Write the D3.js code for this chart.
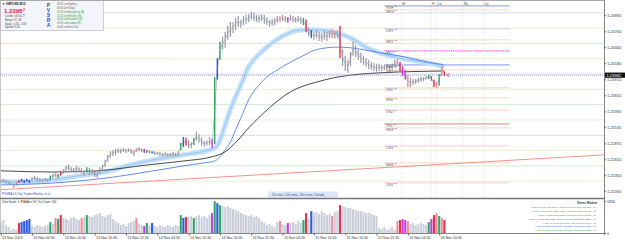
<!DOCTYPE html>
<html>
<head>
<meta charset="utf-8">
<script src="https://cdn.jsdelivr.net/npm/d3@7"></script>
<style>
  html, body { margin: 0; padding: 0; background: #fff; }
  svg { display: block; font-family: "Liberation Sans", Arial, sans-serif; }
</style>
</head>
<body>
<svg id="chart" width="625" height="242"></svg>
<script>
(function() {

  // ---- data -------------------------------------------------------------
  // one bar = 30 minutes, first bar 12 Nov 22:30 (hours counted from 13 Nov 00:00)
  const barStartHour = -1.5;
  const barStepHours = 0.5;

  const highs = [
    1.2227,1.2229,1.2227,1.2225,1.2224,1.2221,1.2225,1.2227,1.2229,1.2227,
    1.2229,1.2227,1.2232,1.2234,1.2232,1.2230,1.2229,1.2230,1.2229,1.2234,
    1.2237,1.2239,1.2237,1.2240,1.2245,1.2250,1.2252,1.2248,1.2247,1.2250,
    1.2248,1.2247,1.2243,1.2248,1.2247,1.2245,1.2242,1.2239,1.2248,1.2252,
    1.2260,1.2268,1.2274,1.2276,1.2278,1.2279,1.2278,1.2279,1.2278,1.2279,
    1.2278,1.2276,1.2279,1.2281,1.2279,1.2278,1.2276,1.2276,1.2274,1.2274,
    1.2273,1.2273,1.2271,1.2273,1.2271,1.2271,1.2273,1.2271,1.2274,1.2288,
    1.2297,1.2296,1.2292,1.2289,1.2296,1.2306,1.2302,1.2296,1.2291,1.2292,
    1.2297,1.2294,1.2395,1.2426,1.2453,1.2461,1.2469,1.2479,1.2485,1.2485,
    1.2492,1.2495,1.2489,1.2495,1.2497,1.2498,1.2502,1.2500,1.2497,1.2497,
    1.2498,1.2497,1.2493,1.2489,1.2490,1.2492,1.2495,1.2495,1.2497,1.2495,
    1.2493,1.2497,1.2495,1.2493,1.2495,1.2493,1.2492,1.2489,1.2476,1.2472,
    1.2469,1.2472,1.2469,1.2467,1.2471,1.2469,1.2471,1.2474,1.2471,1.2472,
    1.2479,1.2440,1.2430,1.2423,1.2436,1.2453,1.2448,1.2440,1.2435,1.2430,
    1.2426,1.2423,1.2420,1.2418,1.2417,1.2417,1.2415,1.2415,1.2417,1.2415,
    1.2417,1.2423,1.2425,1.2420,1.2413,1.2407,1.2399,1.2394,1.2392,1.2392,
    1.2394,1.2395,1.2395,1.2397,1.2399,1.2397,1.2391,1.2387,1.2400,1.2413,
    1.2404
  ];
  const lows = [
    1.2222,1.2224,1.2221,1.2221,1.2219,1.2214,1.2217,1.2222,1.2224,1.2222,
    1.2224,1.2222,1.2225,1.2227,1.2225,1.2224,1.2224,1.2225,1.2224,1.2227,
    1.2230,1.2232,1.2230,1.2234,1.2237,1.2242,1.2243,1.2240,1.2239,1.2242,
    1.2240,1.2237,1.2234,1.2239,1.2235,1.2237,1.2232,1.2230,1.2237,1.2242,
    1.2248,1.2257,1.2263,1.2266,1.2268,1.2271,1.2270,1.2273,1.2271,1.2273,
    1.2270,1.2266,1.2273,1.2274,1.2273,1.2271,1.2271,1.2270,1.2270,1.2268,
    1.2268,1.2266,1.2265,1.2266,1.2265,1.2265,1.2266,1.2265,1.2266,1.2276,
    1.2281,1.2283,1.2279,1.2279,1.2284,1.2291,1.2288,1.2283,1.2281,1.2283,
    1.2284,1.2279,1.2286,1.2391,1.2423,1.2440,1.2443,1.2456,1.2461,1.2467,
    1.2472,1.2477,1.2476,1.2480,1.2482,1.2485,1.2489,1.2487,1.2485,1.2484,
    1.2487,1.2482,1.2480,1.2477,1.2479,1.2480,1.2484,1.2485,1.2487,1.2485,
    1.2484,1.2487,1.2485,1.2484,1.2485,1.2482,1.2480,1.2469,1.2462,1.2459,
    1.2456,1.2458,1.2454,1.2453,1.2456,1.2454,1.2459,1.2459,1.2458,1.2459,
    1.2426,1.2413,1.2405,1.2402,1.2413,1.2430,1.2428,1.2423,1.2418,1.2415,
    1.2412,1.2408,1.2407,1.2405,1.2404,1.2405,1.2405,1.2407,1.2407,1.2405,
    1.2407,1.2413,1.2415,1.2404,1.2397,1.2391,1.2379,1.2379,1.2382,1.2384,
    1.2386,1.2387,1.2389,1.2391,1.2392,1.2389,1.2379,1.2377,1.2381,1.2397,
    1.2397
  ];
  const volumes = [
    570,741,456,342,171,228,171,570,627,684,
    741,798,399,342,456,399,342,399,456,627,
    513,855,798,1026,855,798,741,855,912,798,
    741,855,912,1026,969,912,1026,1083,1140,969,
    912,1026,1083,798,684,570,456,513,399,570,
    627,684,855,513,456,399,570,456,570,399,
    342,456,399,342,456,399,342,456,399,1026,
    855,912,912,969,855,969,1026,912,969,855,
    1026,1140,1824,1710,1596,1539,1482,1539,1425,1368,
    1311,1254,1140,1083,1026,969,1026,912,969,855,
    684,570,456,513,399,342,627,684,513,456,
    570,570,627,513,684,570,741,1140,798,1254,
    1140,1197,1083,1254,1140,1026,1083,969,1197,1254,
    1596,1539,1482,1425,1425,1368,1311,1254,1254,1197,
    1140,1140,1083,1026,969,285,228,342,171,228,
    342,171,684,741,798,741,684,513,570,456,
    513,570,513,456,627,798,1026,1140,969,855,
    741
  ];
  // PVSRA bar type by bar index: r climax bear, p above-avg bear, g climax bull, b above-avg bull, m magenta
  const barTypes = {
    7:'r', 8:'b', 9:'b', 10:'b', 11:'b', 19:'g', 21:'p', 22:'g', 23:'r', 31:'p', 33:'g',
    52:'p', 55:'m', 56:'g', 58:'b', 69:'g', 70:'b', 71:'r', 74:'g', 81:'m', 82:'g', 83:'b',
    84:'g', 107:'p', 110:'m', 116:'g', 117:'r', 119:'b', 127:'p', 130:'r', 152:'p', 153:'r',
    154:'m', 155:'m', 156:'p', 164:'g', 165:'m', 166:'r', 167:'p', 168:'g', 169:'p', 170:'r'
  };

  const ema50Bars = [0,10,20,30,40,50,60,70,78,82,84,86,88,90,92,95,98,102,108,115,121,129,134,140,145,153,164,170];
  const ema50 = [1.2224,1.2224,1.2227,1.2234,1.2240,1.2252,1.2261,1.2268,1.2274,1.2279,1.2292,1.2317,1.2342,
                 1.2363,1.2382,1.2412,1.2428,1.2444,1.2462,1.2472,1.2472,1.2467,1.2459,1.2444,1.2435,1.2426,1.2418,1.2412];
  const ema100Bars = [0,20,40,60,70,78,82,86,88,90,92,95,100,108,115,121,129,134,145,155,163,170];
  const ema100 = [1.2219,1.2222,1.2230,1.2243,1.2250,1.2255,1.2258,1.2276,1.2289,1.2309,1.2328,1.2358,
                  1.2387,1.2412,1.2428,1.2440,1.2444,1.2443,1.2435,1.2428,1.2420,1.2415];
  const ema200Bars = [0,20,37,57,70,81,86,90,95,103,111,121,129,145,170];
  const ema200 = [1.2242,1.2240,1.2242,1.2252,1.2258,1.2265,1.2273,1.2288,1.2312,1.2345,1.2371,1.2387,1.2395,1.2402,1.2405];

  const priceTicks = [1.24965,1.24700,1.24440,1.24180,1.23915,1.23655,1.23390,1.23135,1.22870,1.22610,1.22350,1.22090];
  const roundLevels = [1.2500,1.2475,1.2450,1.2425,1.2400,1.2375,1.2350,1.2325,1.2300,1.2275,1.2250,1.2225];
  const bidPrice = 1.23982;

  const timeTickHours = [-1.5,4.5,10.5,16.5,22.5,28.5,34.5,40.5,46.5,52.5,58.5,64.5,70.5,76.5,82.5];
  const timeTickLabels = ['13 Nov 2023','13 Nov 04:30','13 Nov 10:30','13 Nov 16:30','13 Nov 22:30',
    '14 Nov 04:30','14 Nov 10:30','14 Nov 16:30','14 Nov 22:30','15 Nov 04:30','15 Nov 10:30',
    '15 Nov 16:30','15 Nov 22:30','16 Nov 04:30','16 Nov 10:30'];

  const pivotNames = ['PDH','MR3','DR1','MR1','PVT','NWOH','MS1','DS1','MS2','DS2','PDL','MS3','DS3','MS4','DS4'];
  const pivotPrices = [1.25114,1.25049,1.24739,1.24559,1.24379,1.24150,1.24069,1.23775,1.23611,1.23415,
                       1.23186,1.23121,1.22827,1.22549,1.22222];
  const pivotHours = [72, 96];

  const sessionNames = ['H','F','Lo','Ny','Lo'];
  const sessionHours = [75.25, 81, 82, 87, 91];

  const trendHours = [-1.63, 114.1];
  const trendPrices = [1.2211, 1.2268];

  const infoLines = ['Candle: 00:01:27','Range: 97, 68','Swap: -0.65, -0.00','Spread: 3.00'];
  const clockTimes = ['08:45 pm','06:45 pm','05:45 pm','11:45 am','10:45 am','09:45 am','04:45 am'];
  const clockCities = ['Sydney','Tokyo','Hongkong (A)','Helsinki (B)','Frankfurt (B)','London (B)','NewYork'];
  const clockOpen = [false,false,true,true,true,true,false];

  const eventTexts = [
    '1 hrs 17 mins until USD: FOMC Member Cook Speaks',
    '1 hrs 17 mins until USD: FOMC Member Barr Speaks',
    '3 hrs 47 mins until USD: Unemployment Claims',
    '3 hrs 47 mins until USD: Philly Fed Manufacturing Index',
    '3 hrs 47 mins until USD: Import Prices m/m',
    '4 hrs 30 mins until USD: Industrial Production m/m',
    '4 hrs 30 mins until USD: Capacity Utilization Rate'
  ];
  const eventKinds = ['g','g','r','b','g','b','g'];

  // ---- layout -----------------------------------------------------------
  const plotRight = 604;
  const mainBottom = 198;
  const volTop = 199;
  const volBottom = 233;

  const typeColor = { r: '#e2314c', p: '#ee8b98', g: '#2fa865', b: '#2b5ce6', m: '#c43be2' };
  const eventColor = { g: '#1f9a3c', r: '#e0303c', b: '#2f4fe0' };

  const svg = d3.select('#chart');
  const barHour = i => barStartHour + i * barStepHours;

  const x = d3.scaleLinear().domain([-1.5, 83.5]).range([0.7, 444.4]);
  const y = d3.scaleLinear().domain([1.22090, 1.24965]).range([191, 15]);
  const yVol = d3.scaleLinear().domain([0, 1834]).range([volBottom, 201]);

  const defs = svg.append('defs');
  defs.append('clipPath').attr('id', 'mainClip')
    .append('rect').attr('x', 0).attr('y', 0).attr('width', plotRight).attr('height', mainBottom);

  svg.append('rect').attr('width', 625).attr('height', 242).attr('fill', '#fff');

  const main = svg.append('g').attr('clip-path', 'url(#mainClip)');

  // round number levels (00 / 25 / 50 / 75)
  main.selectAll('line.level').data(roundLevels).enter().append('line')
    .attr('x1', 0).attr('x2', plotRight)
    .attr('y1', d => y(d)).attr('y2', d => y(d))
    .attr('stroke', d => {
      const k = Math.round(d * 10000) % 100;
      return k === 0 ? '#d6d6f2' : (k === 50 ? '#c9ebca' : '#ecebd0');
    })
    .attr('stroke-width', 0.9);

  // trend line
  main.append('line')
    .attr('x1', x(trendHours[0])).attr('y1', y(trendPrices[0]))
    .attr('x2', x(trendHours[1])).attr('y2', y(trendPrices[1]))
    .attr('stroke', '#f28484').attr('stroke-width', 0.9);

  // session markers
  main.selectAll('line.sess').data(sessionHours).enter().append('line')
    .attr('x1', d => x(d)).attr('x2', d => x(d))
    .attr('y1', 0).attr('y2', mainBottom)
    .attr('stroke', '#d2d2d2').attr('stroke-width', 0.6).attr('stroke-dasharray', '0.8,1.2');
  main.selectAll('text.sess').data(sessionNames).enter().append('text')
    .attr('x', (d, i) => x(sessionHours[i]) + 1).attr('y', 4.5)
    .attr('font-size', 3.6).attr('fill', '#444').text(d => d);

  // pivot levels
  function pivotStyle(name) {
    if (name === 'PDH' || name === 'NWOH') return { c: '#9eaaf2', w: 1.2, dash: null };
    if (name === 'PDL') return { c: '#f49a9a', w: 1.2, dash: null };
    if (name === 'PVT') return { c: '#f27fe0', w: 1.6, dash: '1,0.8' };
    if (name[0] === 'D' && name[1] === 'R') return { c: '#8c9cf2', w: 0.8, dash: '1,1' };
    if (name[0] === 'D') return { c: '#f28a8a', w: 0.8, dash: '1,1' };
    return { c: '#dea676', w: 0.8, dash: '1,1' };
  }
  pivotNames.forEach((name, i) => {
    const st = pivotStyle(name);
    const py = y(pivotPrices[i]);
    main.append('line')
      .attr('x1', x(pivotHours[0])).attr('x2', x(pivotHours[1]))
      .attr('y1', py).attr('y2', py)
      .attr('stroke', st.c).attr('stroke-width', st.w)
      .attr('stroke-dasharray', st.dash);
  });

  // EMAs
  const line = d3.line().curve(d3.curveMonotoneX)
    .x(d => x(barHour(d[0]))).y(d => y(d[1]));
  main.append('path').datum(d3.zip(ema50Bars, ema50)).attr('d', line)
    .attr('fill', 'none').attr('stroke', '#c5e1fa').attr('stroke-width', 5);
  main.append('path').datum(d3.zip(ema50Bars, ema50)).attr('d', line)
    .attr('fill', 'none').attr('stroke', '#86bff2').attr('stroke-width', 0.8);
  main.append('path').datum(d3.zip(ema100Bars, ema100)).attr('d', line)
    .attr('fill', 'none').attr('stroke', '#3f6fe4').attr('stroke-width', 0.8);
  main.append('path').datum(d3.zip(ema200Bars, ema200)).attr('d', line)
    .attr('fill', 'none').attr('stroke', '#1c1c1c').attr('stroke-width', 0.8);

  // bid line
  main.append('line')
    .attr('x1', 0).attr('x2', plotRight).attr('y1', y(bidPrice)).attr('y2', y(bidPrice))
    .attr('stroke', '#8e8ebc').attr('stroke-width', 0.8).attr('stroke-dasharray', '1,1');

  // candles: thin link through bar middles, then the high-low bodies
  const mid = d3.line()
    .x((d, i) => x(barHour(i)))
    .y((d, i) => y((d + lows[i]) / 2));
  main.append('path').datum(highs).attr('d', mid)
    .attr('fill', 'none').attr('stroke', '#a6a6b2').attr('stroke-width', 0.7);
  main.selectAll('rect.bar').data(highs).enter().append('rect')
    .attr('x', (d, i) => x(barHour(i)) - (barTypes[i] ? 0.7 : 0.6))
    .attr('width', (d, i) => barTypes[i] ? 1.4 : 1.2)
    .attr('y', d => y(d))
    .attr('height', (d, i) => Math.max(1, y(lows[i]) - y(d)))
    .attr('fill', (d, i) => barTypes[i] ? typeColor[barTypes[i]] : '#9a9aa8');

  // price arrow next to last bar
  const lastX = x(barHour(highs.length - 1));
  main.append('path')
    .attr('d', `M${lastX + 5},${y(bidPrice) - 1.6} L${lastX + 2.6},${y(bidPrice)} L${lastX + 5},${y(bidPrice) + 1.6}`)
    .attr('fill', 'none').attr('stroke', '#e2314c').attr('stroke-width', 0.8);

  // pivot labels
  main.selectAll('text.piv').data(pivotNames).enter().append('text')
    .attr('x', x(pivotHours[0]) + 2)
    .attr('y', (d, i) => y(pivotPrices[i]) + 3.3)
    .attr('font-size', 3.4).attr('fill', '#555')
    .text(d => d + ' **');

  // ---- info box (top left) ------------------------------------------------
  const info = svg.append('g');
  info.append('rect').attr('x', 0.5).attr('y', 0.5).attr('width', 103).attr('height', 30)
    .attr('fill', '#f4f5fa').attr('stroke', '#b2b2bc').attr('stroke-width', 0.6);
  info.append('text').attr('x', 2).attr('y', 5).attr('font-size', 3).attr('font-weight', 'bold')
    .attr('fill', '#222').text('\u25BC GBPUSD  M15');
  const bigPrice = info.append('text').attr('x', 4).attr('y', 13.2).attr('font-weight', 'bold').attr('fill', '#e0213c');
  bigPrice.append('tspan').attr('font-size', 6).text(d3.format('.5f')(bidPrice).slice(0, 6));
  bigPrice.append('tspan').attr('font-size', 3.4).attr('dy', -2).attr('dx', 0.6).text(d3.format('.5f')(bidPrice).slice(6));
  info.selectAll('text.inf').data(infoLines).enter().append('text')
    .attr('x', 5).attr('y', (d, i) => 16.7 + i * 3.9)
    .attr('font-size', 2.6).attr('fill', '#444').text(d => d);
  info.selectAll('text.pv').data('PVSRA'.split('')).enter().append('text')
    .attr('x', 48.5).attr('y', (d, i) => 6.8 + i * 5)
    .attr('text-anchor', 'middle').attr('font-size', 5).attr('font-weight', 'bold')
    .attr('fill', '#2a46e0').text(d => d);
  info.selectAll('text.ct').data(clockTimes).enter().append('text')
    .attr('x', 57).attr('y', (d, i) => 4.8 + i * 3.9)
    .attr('font-size', 2.6).attr('fill', (d, i) => clockOpen[i] ? '#2c9a4a' : '#666').text(d => d);
  info.selectAll('text.cc').data(clockCities).enter().append('text')
    .attr('x', 68).attr('y', (d, i) => 4.8 + i * 3.9)
    .attr('font-size', 2.6).attr('fill', (d, i) => clockOpen[i] ? '#2c9a4a' : '#666').text(d => d);

  // bottom notes of main panel
  svg.append('text').attr('x', 2).attr('y', 194.5).attr('font-size', 3)
    .attr('fill', '#3552c4').text('PVSRA  v2.2  by  TradersReality,  et  al.');
  svg.append('rect').attr('x', 268).attr('y', 191.5).attr('width', 70).attr('height', 6)
    .attr('fill', '#dce6f6');
  svg.append('text').attr('x', 272).attr('y', 196).attr('font-size', 3.3)
    .attr('fill', '#3a58a8').text('50 ema,  100 ema,  200 ema,  Trends');

  // ---- volume panel -----------------------------------------------------
  svg.append('text').attr('x', 2).attr('y', 203.2).attr('font-size', 2.7).attr('fill', '#222')
    .text('Chart Scale: 1,   PVA Alert Off,   Tick Count: 100');
  svg.selectAll('rect.vol').data(volumes).enter().append('rect')
    .attr('x', (d, i) => x(barHour(i)) - 1.05)
    .attr('width', 2.1)
    .attr('y', d => yVol(d))
    .attr('height', d => volBottom - yVol(d))
    .attr('fill', (d, i) => barTypes[i] ? typeColor[barTypes[i]] : '#cacfdb');

  svg.append('text').attr('x', 597).attr('y', 203.5).attr('text-anchor', 'end')
    .attr('font-size', 2.7).attr('font-weight', 'bold').attr('fill', '#333').text('Events Window');
  eventTexts.forEach((t, i) => {
    const ey = 208.2 + i * 3.85;
    svg.append('text').attr('x', 591).attr('y', ey).attr('text-anchor', 'end')
      .attr('font-size', 2.5).attr('fill', eventColor[eventKinds[i]]).text(t);
    svg.append('text').attr('x', 593).attr('y', ey)
      .attr('font-size', 2.5).attr('fill', eventColor[eventKinds[i]]).text('(' + (i + 1) + ')');
  });

  // ---- frames & axes ----------------------------------------------------
  svg.append('line').attr('x1', 0).attr('x2', plotRight).attr('y1', 0.5).attr('y2', 0.5)
    .attr('stroke', '#a8a8a8').attr('stroke-width', 1);
  svg.append('line').attr('x1', 0.5).attr('x2', 0.5).attr('y1', 0).attr('y2', volBottom)
    .attr('stroke', '#b8b8b8').attr('stroke-width', 0.8);
  svg.append('line').attr('x1', 0).attr('x2', plotRight).attr('y1', mainBottom + 0.5).attr('y2', mainBottom + 0.5)
    .attr('stroke', '#777').attr('stroke-width', 1.3);
  svg.append('line').attr('x1', plotRight + 0.5).attr('x2', plotRight + 0.5).attr('y1', 0).attr('y2', volBottom + 2)
    .attr('stroke', '#777').attr('stroke-width', 0.9);

  const yAxis = svg.append('g').attr('transform', `translate(${plotRight + 0.5},0)`)
    .call(d3.axisRight(y).tickValues(priceTicks).tickFormat(d3.format('.5f')).tickSize(1.5).tickPadding(1));
  yAxis.select('.domain').remove();
  yAxis.selectAll('text').attr('font-size', 4).attr('fill', '#333').attr('font-family', '"Liberation Sans", Arial, sans-serif');
  yAxis.selectAll('line').attr('stroke', '#666');

  // current price tag
  svg.append('rect').attr('x', plotRight + 1).attr('y', y(bidPrice) - 2.6).attr('width', 20).attr('height', 5.2)
    .attr('fill', '#111');
  svg.append('text').attr('x', plotRight + 2.5).attr('y', y(bidPrice) + 1.5).attr('font-size', 4)
    .attr('fill', '#fff').text(d3.format('.5f')(bidPrice));

  // volume scale
  const vAxis = svg.append('g').attr('transform', `translate(${plotRight + 0.5},0)`)
    .call(d3.axisRight(yVol).tickValues([1834, 0]).tickFormat(d3.format('d')).tickSize(1.5).tickPadding(1));
  vAxis.select('.domain').remove();
  vAxis.selectAll('text').attr('font-size', 3.6).attr('fill', '#333').attr('font-family', '"Liberation Sans", Arial, sans-serif');
  vAxis.selectAll('line').attr('stroke', '#666');

  // time axis
  svg.append('line').attr('x1', 0).attr('x2', plotRight + 1).attr('y1', volBottom + 0.5).attr('y2', volBottom + 0.5)
    .attr('stroke', '#777').attr('stroke-width', 0.9);
  const xAxis = svg.append('g').attr('transform', `translate(0,${volBottom + 0.5})`)
    .call(d3.axisBottom(x).tickValues(timeTickHours).tickFormat((d, i) => timeTickLabels[i]).tickSize(2).tickPadding(0.8));
  xAxis.select('.domain').remove();
  xAxis.selectAll('text').attr('font-size', 3.6).attr('fill', '#333').attr('text-anchor', 'start')
    .attr('dx', 0.8).attr('font-family', '"Liberation Sans", Arial, sans-serif');
  xAxis.selectAll('line').attr('stroke', '#666');

})();
</script>
</body>
</html>
